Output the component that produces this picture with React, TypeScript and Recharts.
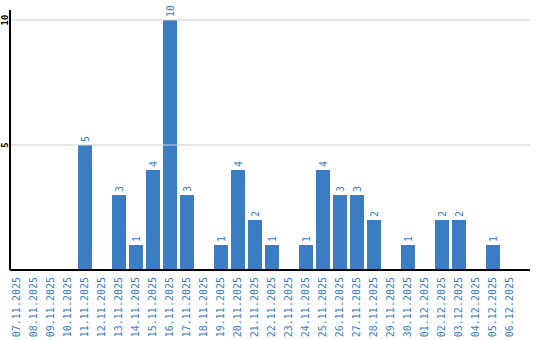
import { Bar, BarChart, LabelList, ReferenceLine, XAxis, YAxis } from "recharts";

const dates = [
  "07.11.2025", "08.11.2025", "09.11.2025", "10.11.2025", "11.11.2025",
  "12.11.2025", "13.11.2025", "14.11.2025", "15.11.2025", "16.11.2025",
  "17.11.2025", "18.11.2025", "19.11.2025", "20.11.2025", "21.11.2025",
  "22.11.2025", "23.11.2025", "24.11.2025", "25.11.2025", "26.11.2025",
  "27.11.2025", "28.11.2025", "29.11.2025", "30.11.2025", "01.12.2025",
  "02.12.2025", "03.12.2025", "04.12.2025", "05.12.2025", "06.12.2025"
];
const counts = [0, 0, 0, 0, 5, 0, 3, 1, 4, 10, 3, 0, 1, 4, 2, 1, 0, 1, 4, 3, 3, 2, 0, 1, 0, 2, 2, 0, 1, 0];
const yTicks = [5, 10];

const data = dates.map((d, i) => ({ date: d, count: counts[i] }));

const BLUE = "#3a7dc3";
const FONT = "DejaVu Sans Mono";

function DateTick({ x, y, payload }: any) {
  return (
    <text
      transform={`translate(${x},${y - 1}) rotate(-90)`}
      textAnchor="end"
      dy="0.35em"
      fill={BLUE}
      fontSize={10}
      fontFamily={FONT}
    >
      {payload.value}
    </text>
  );
}

function CountTick({ x, y, payload }: any) {
  return (
    <text
      transform={`translate(${x + 3},${y}) rotate(-90)`}
      textAnchor="middle"
      dy="0.35em"
      fill="#000"
      fontSize={9}
      fontFamily={FONT}
      fontWeight="bold"
    >
      {payload.value}
    </text>
  );
}

function ValueLabel({ x, y, width, value }: any) {
  if (!value) return null;
  const cx = x + width / 2;
  return (
    <text
      transform={`translate(${cx},${y - 3}) rotate(-90)`}
      textAnchor="start"
      dy="0.35em"
      fill={BLUE}
      fontSize={10}
      fontFamily={FONT}
    >
      {value}
    </text>
  );
}

export default function App() {
  return (
    <div style={{ position: "absolute", left: 0, top: 0, background: "#fff" }}>
      <BarChart
        width={540}
        height={340}
        data={data}
        margin={{ top: 10, right: 10, left: 0, bottom: 8 }}
      >
        {yTicks.map((t) => (
          <ReferenceLine key={t} y={t} stroke="#cccccc" />
        ))}
        <XAxis
          dataKey="date"
          interval={0}
          height={62}
          tickLine={false}
          axisLine={{ stroke: "#000", strokeWidth: 2 }}
          padding={{ left: -2, right: 12 }}
          tick={<DateTick />}
        />
        <YAxis
          width={10}
          domain={[0, 10.4]}
          ticks={yTicks}
          allowDataOverflow
          tickLine={false}
          axisLine={{ stroke: "#000", strokeWidth: 2 }}
          tick={<CountTick />}
        />
        <Bar dataKey="count" fill={BLUE} barSize={14} isAnimationActive={false}>
          <LabelList dataKey="count" content={<ValueLabel />} />
        </Bar>
      </BarChart>
    </div>
  );
}
